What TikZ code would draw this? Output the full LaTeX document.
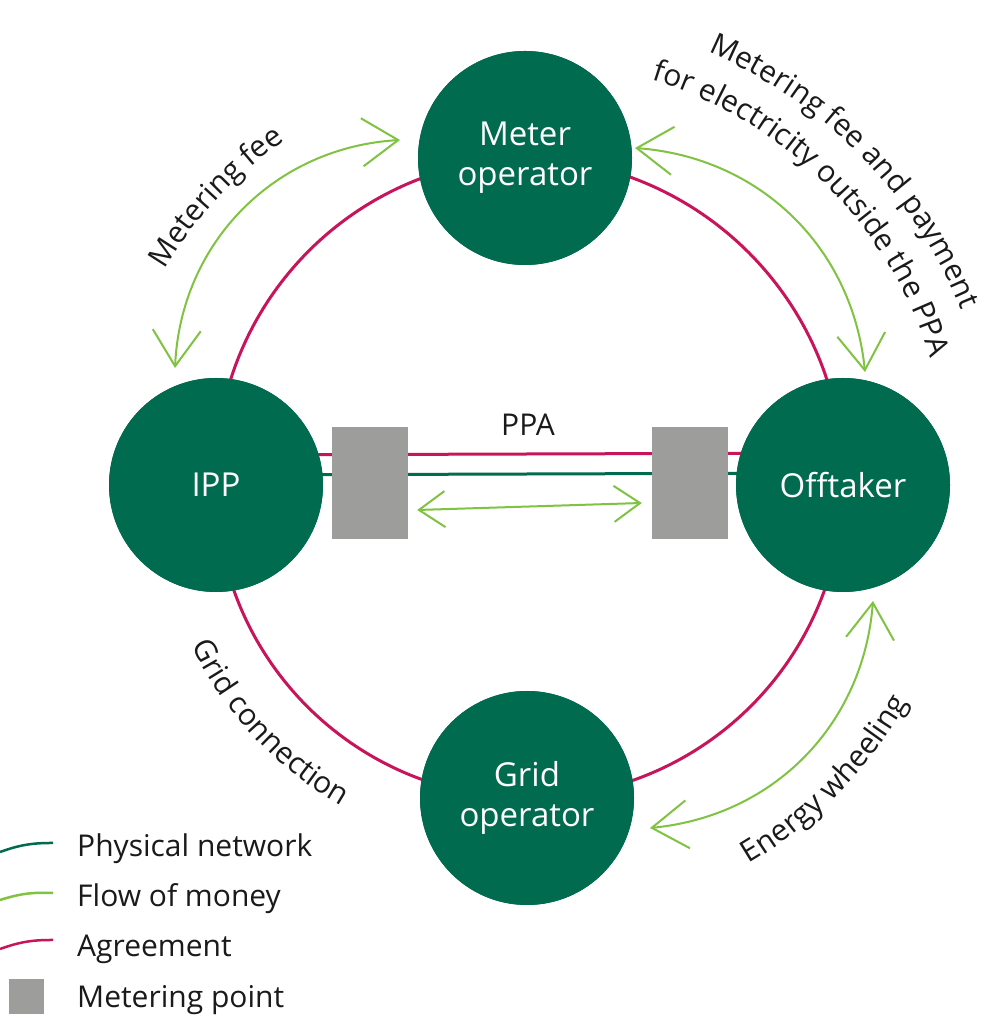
\documentclass[tikz,border=0pt]{standalone}
\usepackage{fontspec}
\setmainfont{Open Sans}
\usetikzlibrary{arrows.meta,decorations.text}
\definecolor{dkgreen}{HTML}{006B4F}
\definecolor{pinkc}{HTML}{C8145A}
\definecolor{ltgreen}{HTML}{80C342}
\definecolor{grayc}{HTML}{9D9D9C}
\definecolor{txt}{HTML}{1A1A1A}
\newcommand\lblfont{\fontsize{30}{36}\selectfont}
\begin{document}
\begin{tikzpicture}[x=1pt,y=1pt,
  actor/.style={circle, fill=dkgreen, draw=none, minimum size=214pt, inner sep=0pt,
    text=white, align=center, font=\fontsize{33}{40}\selectfont},
  meterbox/.style={fill=grayc, draw=none, minimum width=76pt, minimum height=112pt, inner sep=0pt},
  agree/.style={draw=pinkc, line width=3pt},
  phys/.style={draw=dkgreen, line width=3pt},
  money/.style={draw=ltgreen, line width=2pt},
  bighead/.style={{Straight Barb[length=36pt,width=48pt]}-{Straight Barb[length=36pt,width=48pt]}},
  smallhead/.style={{Straight Barb[length=26pt,width=36pt]}-{Straight Barb[length=26pt,width=36pt]}},
  curvetext/.style={decorate, decoration={text along path, text align=center, text color=txt}},
  legtext/.style={anchor=base west, font=\lblfont, text=txt, inner sep=0pt}
]
\useasboundingbox (0,0) rectangle (1005,1019);
\fill[white] (0,0) rectangle (1005,1019);

\coordinate (c) at (525,534);

% agreement ring and horizontal lines (behind nodes)
\path (525,861) coordinate (pmeter) (216,534) coordinate (pipp)
      (843,534) coordinate (poff) (527,221) coordinate (pgrid);
\node[actor] (meter) at (pmeter) {};
\node[actor] (ipp) at (pipp) {};
\node[actor] (off) at (poff) {};
\node[actor] (grid) at (pgrid) {};

\draw[agree] (ipp.center) to[bend left=45] (meter.center);
\draw[agree] (meter.center) to[bend left=45] (off.center);
\draw[agree] (off.center) to[bend left=45] (grid.center);
\draw[agree] (grid.center) to[bend left=45] (ipp.center);

\draw[agree] ([yshift=30pt]ipp.center) -- ([yshift=32pt]off.center);
\draw[phys] ([yshift=10pt]ipp.center) -- ([yshift=12pt]off.center);

% actors on top
\node[actor] at (meter) {Meter\\operator};
\node[actor] at (ipp) {IPP};
\node[actor] at (off) {Offtaker};
\node[actor] at (grid) {Grid\\operator};

% metering points
\node[meterbox] (mL) at (370,536) {};
\node[meterbox] (mR) at (690,536) {};

% PPA
\node[font=\lblfont, text=txt] (ppa) at (528,594) {PPA};
\draw[money, smallhead] ([shift={(9pt,-27pt)}]mL.east) -- ([shift={(-10pt,-20pt)}]mR.west);

% money flows
\coordinate (m1a) at (175,651); \coordinate (m1b) at (400,879);
\draw[money, bighead] (m1a) to[bend left=42] (m1b);
\coordinate (m2a) at (635,871); \coordinate (m2b) at (865,647);
\draw[money, bighead] (m2a) to[bend left=40] (m2b);
\coordinate (m3a) at (650,191); \coordinate (m3b) at (873,418);
\draw[money, bighead] (m3a) to[bend right=40] (m3b);

% curved labels
\path[curvetext, decoration={text={|\lblfont|Metering fee}}]
  ([shift={(155:420pt)}]c) arc[start angle=155, end angle=119, radius=420pt];
\path[curvetext, decoration={text={|\lblfont|Metering fee and payment}}]
  ([shift={(72:470pt)}]c) arc[start angle=72, end angle=17, radius=470pt];
\path[curvetext, decoration={text={|\lblfont|for electricity outside the PPA}}]
  ([shift={(80:425pt)}]c) arc[start angle=80, end angle=10, radius=425pt];
\path[curvetext, decoration={text={|\lblfont|Grid connection}}]
  ([shift={(198:370pt)}]c) arc[start angle=198, end angle=248, radius=370pt];
\path[curvetext, decoration={text={|\lblfont|Energy wheeling}}]
  ([shift={(-66:440pt)}]c) arc[start angle=-66, end angle=-23, radius=440pt];

% legend
\coordinate (l1a) at (0,167); \coordinate (l1b) at (53,176);
\coordinate (l2a) at (0,119); \coordinate (l2b) at (53,126);
\coordinate (l3a) at (0,70);  \coordinate (l3b) at (53,79);
\draw[phys, line width=2.5pt] (l1a) to[bend left=10] (l1b);
\draw[money, line width=2.5pt] (l2a) to[bend left=10] (l2b);
\draw[agree, line width=2.5pt] (l3a) to[bend left=10] (l3b);
\node[fill=grayc, minimum width=35pt, minimum height=35pt, inner sep=0pt] (lsq) at (26.5,22.5) {};
\node[legtext] (lg1) at (77,162) {Physical network};
\node[legtext] (lg2) at (77,112) {Flow of money};
\node[legtext] (lg3) at (77,62) {Agreement};
\node[legtext] (lg4) at (77,12) {Metering point};
\end{tikzpicture}
\end{document}
